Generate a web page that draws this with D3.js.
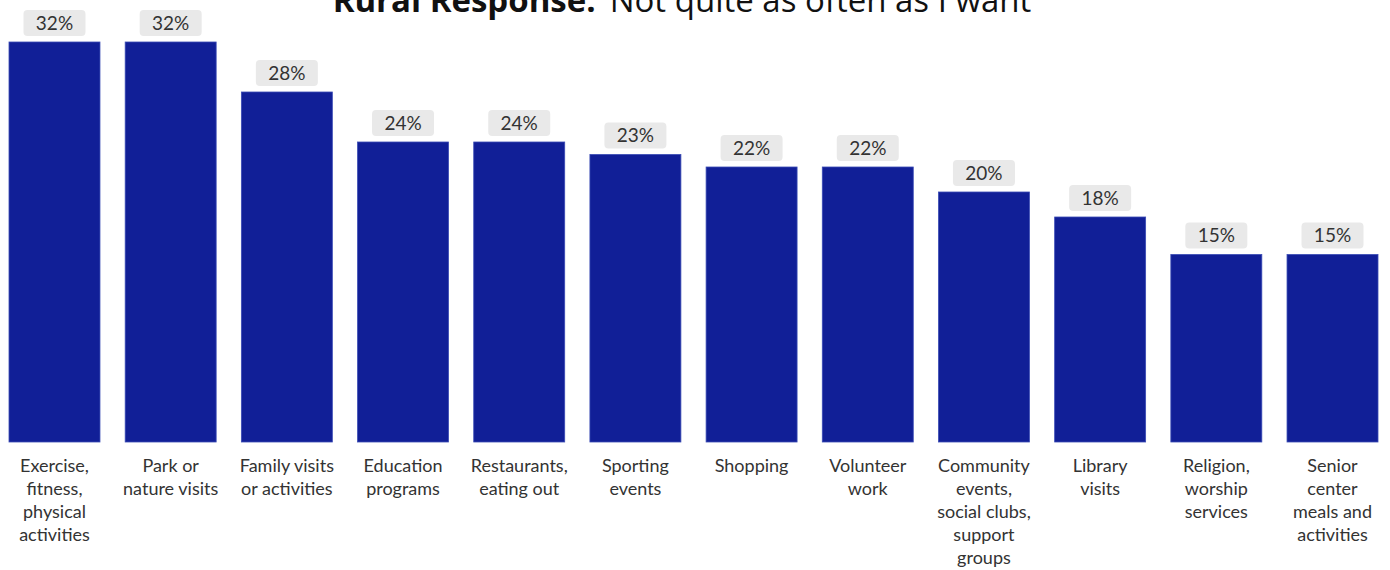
<!DOCTYPE html>
<html>
<head>
<meta charset="utf-8">
<script src="https://cdn.jsdelivr.net/npm/d3@7"></script>
<style>
  html, body { margin: 0; padding: 0; background: #fff; }
  svg { display: block; }
</style>
</head>
<body>
<svg id="chart" width="1390" height="570"></svg>
<script>
// Activity categories (each label split into its display lines)
const categories = [
  ["Exercise,", "fitness,", "physical", "activities"],
  ["Park or", "nature visits"],
  ["Family visits", "or activities"],
  ["Education", "programs"],
  ["Restaurants,", "eating out"],
  ["Sporting", "events"],
  ["Shopping"],
  ["Volunteer", "work"],
  ["Community", "events,", "social clubs,", "support", "groups"],
  ["Library", "visits"],
  ["Religion,", "worship", "services"],
  ["Senior", "center", "meals and", "activities"]
];
// Share of rural respondents answering "Not quite as often as I want" (%)
const values = [32, 32, 28, 24, 24, 23, 22, 22, 20, 18, 15, 15];

const titleBold = "Rural Response:";
const titleRest = "Not quite as often as I want";

const svg = d3.select("#chart");

const x = d3.scaleBand()
  .domain(d3.range(categories.length))
  .range([9, 1378])
  .paddingInner(0.217)
  .paddingOuter(0);

const y = d3.scaleLinear()
  .domain([0, 32])
  .range([442, 42]);

const barColor = "#111f97";

// Title, partly clipped by the top edge
const title = svg.append("text")
  .attr("x", 682)
  .attr("y", 12)
  .attr("text-anchor", "middle")
  .style("font-family", "'Open Sans', sans-serif")
  .style("font-size", "33px")
  .attr("fill", "#111");
title.append("tspan").style("font-weight", 700).text(titleBold);
title.append("tspan").attr("dx", 14).style("font-weight", 400).text(titleRest);

// Bars
svg.append("g").selectAll("rect")
  .data(values)
  .join("rect")
  .attr("x", (d, i) => x(i))
  .attr("width", x.bandwidth())
  .attr("y", d => y(d))
  .attr("height", d => y(0) - y(d))
  .attr("fill", barColor)
  .attr("stroke", "#3a4bb5")
  .attr("stroke-width", 0.8);

// Value labels in rounded grey boxes
const lbl = svg.append("g").selectAll("g")
  .data(values)
  .join("g")
  .attr("transform", (d, i) => `translate(${x(i) + x.bandwidth() / 2},${y(d) - 19})`);

lbl.append("rect")
  .attr("x", -31)
  .attr("y", -13)
  .attr("width", 62)
  .attr("height", 26)
  .attr("rx", 4)
  .attr("fill", "#e9e9e9");

lbl.append("text")
  .attr("text-anchor", "middle")
  .attr("dy", "0.36em")
  .style("font-family", "Lato, 'Open Sans', sans-serif")
  .style("font-size", "19px")
  .attr("fill", "#333")
  .text(d => d + "%");

// Category labels below the bars
const cat = svg.append("g").selectAll("text")
  .data(categories)
  .join("text")
  .attr("x", (d, i) => x(i) + x.bandwidth() / 2)
  .attr("y", 472)
  .attr("text-anchor", "middle")
  .style("font-family", "Lato, 'Open Sans', sans-serif")
  .style("font-size", "18px")
  .attr("fill", "#333");

cat.selectAll("tspan")
  .data(d => d)
  .join("tspan")
  .attr("x", function () { return d3.select(this.parentNode).attr("x"); })
  .attr("dy", (d, j) => j === 0 ? 0 : 23)
  .text(d => d);
</script>
</body>
</html>
